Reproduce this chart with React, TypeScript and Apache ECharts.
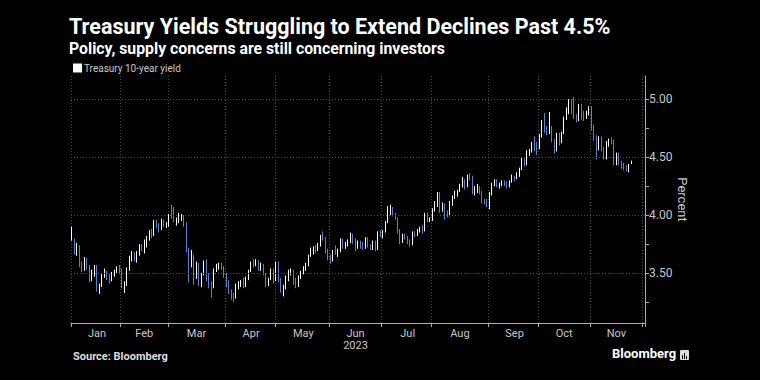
import React, { useEffect, useRef } from 'react';
import * as echarts from 'echarts';

const year = 2023;
const monthLabels = ['Jan', 'Feb', 'Mar', 'Apr', 'May', 'Jun', 'Jul', 'Aug', 'Sep', 'Oct', 'Nov', 'Dec'];

// trading days per month (category axis)
const janDays = [3, 4, 5, 6, 9, 10, 11, 12, 13, 17, 18, 19, 20, 23, 24, 25, 26, 27, 30, 31];
const febDays = [1, 2, 3, 6, 7, 8, 9, 10, 13, 14, 15, 16, 17, 21, 22, 23, 24, 27, 28];
const marDays = [1, 2, 3, 6, 7, 8, 9, 10, 13, 14, 15, 16, 17, 20, 21, 22, 23, 24, 27, 28, 29, 30, 31];
const aprDays = [3, 4, 5, 6, 7, 10, 11, 12, 13, 14, 17, 18, 19, 20, 21, 24, 25, 26, 27, 28];
const mayDays = [1, 2, 3, 4, 5, 8, 9, 10, 11, 12, 15, 16, 17, 18, 19, 22, 23, 24, 25, 26, 30, 31];
const junDays = [1, 2, 5, 6, 7, 8, 9, 12, 13, 14, 15, 16, 20, 21, 22, 23, 26, 27, 28, 29, 30];
const julDays = [3, 5, 6, 7, 10, 11, 12, 13, 14, 17, 18, 19, 20, 21, 24, 25, 26, 27, 28, 31];
const augDays = [1, 2, 3, 4, 7, 8, 9, 10, 11, 14, 15, 16, 17, 18, 21, 22, 23, 24, 25, 28, 29, 30, 31];
const sepDays = [1, 5, 6, 7, 8, 11, 12, 13, 14, 15, 18, 19, 20, 21, 22, 25, 26, 27, 28, 29];
const octDays = [2, 3, 4, 5, 6, 10, 11, 12, 13, 16, 17, 18, 19, 20, 23, 24, 25, 26, 27, 30, 31];
const novDays = [1, 2, 3, 6, 7, 8, 9, 10, 13, 14, 15, 16, 17, 20, 21, 22, 24, 27, 28, 29, 30];
const decDays = [1];
const monthDays = [janDays, febDays, marDays, aprDays, mayDays, junDays, julDays, augDays, sepDays, octDays, novDays, decDays];

// [open, close, low, high]
const janOHLC = [
  [3.81, 3.88, 3.78, 3.9], [3.79, 3.69, 3.66, 3.8], [3.68, 3.72, 3.65, 3.76], [3.72, 3.56, 3.55, 3.74],
  [3.57, 3.53, 3.51, 3.6], [3.53, 3.62, 3.52, 3.64], [3.62, 3.55, 3.53, 3.63], [3.55, 3.44, 3.42, 3.57],
  [3.44, 3.51, 3.43, 3.53], [3.51, 3.55, 3.47, 3.57], [3.54, 3.37, 3.34, 3.57], [3.37, 3.39, 3.32, 3.41],
  [3.39, 3.48, 3.38, 3.5], [3.48, 3.51, 3.46, 3.54], [3.51, 3.46, 3.44, 3.52], [3.46, 3.45, 3.41, 3.49],
  [3.45, 3.49, 3.43, 3.51], [3.49, 3.51, 3.47, 3.53], [3.51, 3.55, 3.5, 3.56], [3.55, 3.51, 3.49, 3.57],
];
const febOHLC = [
  [3.52, 3.39, 3.37, 3.54], [3.39, 3.4, 3.33, 3.43], [3.4, 3.53, 3.39, 3.55], [3.53, 3.64, 3.52, 3.65],
  [3.64, 3.67, 3.6, 3.69], [3.67, 3.61, 3.6, 3.68], [3.61, 3.66, 3.59, 3.69], [3.66, 3.74, 3.65, 3.75],
  [3.74, 3.71, 3.69, 3.75], [3.71, 3.76, 3.67, 3.79], [3.76, 3.81, 3.72, 3.82], [3.81, 3.86, 3.78, 3.87],
  [3.86, 3.82, 3.8, 3.88], [3.83, 3.95, 3.82, 3.96], [3.95, 3.92, 3.89, 3.96], [3.92, 3.88, 3.85, 3.93],
  [3.88, 3.95, 3.87, 3.97], [3.95, 3.92, 3.9, 3.96], [3.92, 3.93, 3.89, 3.94],
];
const marOHLC = [
  [3.92, 4.0, 3.9, 4.01], [4.08, 4.06, 3.97, 4.09], [4.06, 3.95, 3.94, 4.07], [3.95, 3.96, 3.91, 3.98],
  [3.96, 3.97, 3.93, 4.02], [3.97, 3.99, 3.95, 4.01], [3.99, 3.93, 3.9, 4.0], [3.93, 3.7, 3.68, 3.94],
  [3.7, 3.57, 3.42, 3.72], [3.57, 3.64, 3.55, 3.7], [3.64, 3.46, 3.4, 3.66], [3.46, 3.58, 3.45, 3.6],
  [3.58, 3.43, 3.39, 3.59], [3.43, 3.49, 3.38, 3.5], [3.49, 3.6, 3.48, 3.61], [3.6, 3.45, 3.43, 3.62],
  [3.45, 3.42, 3.37, 3.5], [3.42, 3.38, 3.29, 3.43], [3.38, 3.53, 3.37, 3.54], [3.53, 3.57, 3.51, 3.58],
  [3.56, 3.57, 3.53, 3.59], [3.57, 3.55, 3.53, 3.59], [3.55, 3.47, 3.46, 3.56],
];
const aprOHLC = [
  [3.47, 3.43, 3.38, 3.5], [3.43, 3.34, 3.32, 3.44], [3.34, 3.31, 3.27, 3.36], [3.31, 3.29, 3.25, 3.33],
  [3.29, 3.39, 3.28, 3.41], [3.39, 3.41, 3.36, 3.43], [3.41, 3.43, 3.38, 3.44], [3.43, 3.4, 3.37, 3.46],
  [3.4, 3.45, 3.38, 3.47], [3.45, 3.52, 3.44, 3.53], [3.52, 3.59, 3.51, 3.6], [3.59, 3.58, 3.55, 3.62],
  [3.58, 3.6, 3.56, 3.62], [3.6, 3.54, 3.52, 3.61], [3.54, 3.57, 3.52, 3.59], [3.57, 3.49, 3.48, 3.58],
  [3.49, 3.4, 3.38, 3.5], [3.4, 3.45, 3.39, 3.46], [3.45, 3.53, 3.44, 3.54], [3.53, 3.44, 3.41, 3.54],
];
const mayOHLC = [
  [3.44, 3.59, 3.43, 3.6], [3.59, 3.44, 3.42, 3.6], [3.44, 3.35, 3.33, 3.46], [3.35, 3.38, 3.3, 3.4],
  [3.38, 3.44, 3.36, 3.48], [3.44, 3.52, 3.43, 3.53], [3.5, 3.52, 3.48, 3.54], [3.52, 3.45, 3.4, 3.53],
  [3.45, 3.39, 3.37, 3.46], [3.39, 3.46, 3.38, 3.48], [3.46, 3.51, 3.45, 3.52], [3.51, 3.54, 3.49, 3.56],
  [3.54, 3.57, 3.52, 3.59], [3.57, 3.65, 3.56, 3.66], [3.65, 3.68, 3.64, 3.72], [3.68, 3.72, 3.66, 3.73],
  [3.72, 3.7, 3.67, 3.74], [3.7, 3.74, 3.69, 3.76], [3.74, 3.82, 3.73, 3.83], [3.82, 3.8, 3.78, 3.86],
  [3.8, 3.69, 3.67, 3.81], [3.69, 3.64, 3.61, 3.71],
];
const junOHLC = [
  [3.64, 3.61, 3.58, 3.66], [3.61, 3.69, 3.6, 3.7], [3.71, 3.69, 3.66, 3.74], [3.69, 3.7, 3.64, 3.71],
  [3.7, 3.79, 3.68, 3.8], [3.79, 3.72, 3.71, 3.8], [3.72, 3.75, 3.71, 3.77], [3.75, 3.77, 3.73, 3.79],
  [3.77, 3.83, 3.76, 3.85], [3.83, 3.79, 3.75, 3.84], [3.79, 3.72, 3.69, 3.8], [3.72, 3.77, 3.71, 3.78],
  [3.77, 3.73, 3.71, 3.78], [3.73, 3.72, 3.7, 3.77], [3.72, 3.8, 3.71, 3.81], [3.8, 3.74, 3.72, 3.81],
  [3.74, 3.72, 3.7, 3.75], [3.72, 3.77, 3.7, 3.78], [3.77, 3.71, 3.69, 3.78], [3.71, 3.85, 3.7, 3.86],
  [3.85, 3.84, 3.81, 3.87],
];
const julOHLC = [
  [3.84, 3.86, 3.8, 3.87], [3.86, 3.94, 3.85, 3.95], [3.94, 4.04, 3.93, 4.08], [4.04, 4.06, 4.0, 4.09],
  [4.06, 4.01, 3.99, 4.07], [4.01, 3.97, 3.96, 4.02], [3.97, 3.87, 3.84, 3.98], [3.87, 3.77, 3.75, 3.88],
  [3.77, 3.83, 3.76, 3.84], [3.83, 3.8, 3.79, 3.84], [3.8, 3.79, 3.75, 3.82], [3.79, 3.75, 3.73, 3.79],
  [3.75, 3.85, 3.74, 3.86], [3.85, 3.84, 3.81, 3.86], [3.84, 3.87, 3.82, 3.88], [3.87, 3.89, 3.85, 3.9],
  [3.89, 3.87, 3.84, 3.91], [3.87, 4.01, 3.86, 4.02], [4.01, 3.96, 3.94, 4.02], [3.96, 3.97, 3.94, 3.98],
];
const augOHLC = [
  [3.97, 4.05, 3.95, 4.06], [4.05, 4.08, 4.03, 4.12], [4.08, 4.19, 4.07, 4.2], [4.19, 4.04, 4.02, 4.2],
  [4.04, 4.09, 4.03, 4.11], [4.09, 4.02, 3.96, 4.1], [4.02, 4.01, 3.98, 4.04], [4.01, 4.09, 3.99, 4.12],
  [4.09, 4.16, 4.08, 4.17], [4.16, 4.19, 4.14, 4.21], [4.19, 4.21, 4.16, 4.22], [4.21, 4.26, 4.2, 4.27],
  [4.26, 4.3, 4.24, 4.33], [4.3, 4.25, 4.22, 4.31], [4.25, 4.34, 4.24, 4.35], [4.34, 4.33, 4.3, 4.36],
  [4.33, 4.19, 4.18, 4.34], [4.19, 4.24, 4.17, 4.25], [4.23, 4.24, 4.19, 4.27], [4.24, 4.2, 4.18, 4.25],
  [4.2, 4.12, 4.1, 4.21], [4.13, 4.12, 4.09, 4.14], [4.12, 4.09, 4.07, 4.14],
];
const sepOHLC = [
  [4.09, 4.18, 4.05, 4.2], [4.18, 4.27, 4.17, 4.28], [4.27, 4.3, 4.25, 4.31], [4.3, 4.26, 4.24, 4.31],
  [4.25, 4.26, 4.23, 4.28], [4.26, 4.29, 4.25, 4.3], [4.29, 4.27, 4.25, 4.3], [4.27, 4.25, 4.23, 4.29],
  [4.25, 4.29, 4.24, 4.3], [4.29, 4.33, 4.28, 4.35], [4.33, 4.32, 4.29, 4.34], [4.32, 4.37, 4.31, 4.37],
  [4.37, 4.4, 4.33, 4.41], [4.4, 4.49, 4.39, 4.5], [4.49, 4.44, 4.42, 4.49], [4.44, 4.54, 4.43, 4.56],
  [4.54, 4.55, 4.51, 4.57], [4.55, 4.61, 4.54, 4.63], [4.61, 4.59, 4.55, 4.68], [4.59, 4.57, 4.52, 4.63],
];
const octOHLC = [
  [4.59, 4.68, 4.57, 4.7], [4.68, 4.8, 4.67, 4.82], [4.8, 4.73, 4.71, 4.88], [4.73, 4.72, 4.69, 4.77],
  [4.72, 4.78, 4.7, 4.89], [4.75, 4.65, 4.63, 4.77], [4.65, 4.56, 4.53, 4.66], [4.56, 4.7, 4.55, 4.71],
  [4.7, 4.63, 4.6, 4.71], [4.63, 4.71, 4.62, 4.72], [4.71, 4.83, 4.7, 4.85], [4.83, 4.91, 4.82, 4.93],
  [4.91, 4.99, 4.87, 5.0], [4.99, 4.91, 4.87, 5.0], [4.93, 4.85, 4.83, 5.02], [4.85, 4.82, 4.8, 4.87],
  [4.82, 4.95, 4.81, 4.96], [4.95, 4.84, 4.82, 4.96], [4.86, 4.84, 4.81, 4.9], [4.84, 4.88, 4.83, 4.9],
  [4.88, 4.93, 4.86, 4.94],
];
const novOHLC = [
  [4.93, 4.77, 4.73, 4.94], [4.77, 4.67, 4.64, 4.78], [4.67, 4.57, 4.48, 4.69], [4.57, 4.67, 4.56, 4.68],
  [4.67, 4.57, 4.55, 4.68], [4.57, 4.49, 4.48, 4.59], [4.49, 4.63, 4.48, 4.64], [4.63, 4.65, 4.59, 4.66],
  [4.65, 4.64, 4.61, 4.67], [4.64, 4.44, 4.43, 4.65], [4.44, 4.53, 4.43, 4.54], [4.53, 4.45, 4.43, 4.54],
  [4.45, 4.44, 4.4, 4.47], [4.44, 4.42, 4.39, 4.45], [4.42, 4.4, 4.38, 4.43], [4.4, 4.41, 4.37, 4.44],
  [4.45, 4.46, 4.44, 4.47],
];

const yTickValues = [3.25, 3.5, 3.75, 4.0, 4.25, 4.5, 4.75, 5.0];
const yLabelValues = [3.5, 4.0, 4.5, 5.0];

const titleText = 'Treasury Yields Struggling to Extend Declines Past 4.5%';
const subtitleText = 'Policy, supply concerns are still concerning investors';
const seriesName = 'Treasury 10-year yield';

const UP = '#ffffff';
const DOWN = '#4f86d0';
const LABEL = '#c8c8c8';
const GRID = '#4a4a4a';
const FONT = 'Roboto, "Liberation Sans", sans-serif';

export default function App() {
  const ref = useRef<HTMLDivElement>(null);
  useEffect(() => {
    document.body.style.margin = '0';
    document.body.style.background = '#000';
    const chart = echarts.init(ref.current!, null, { renderer: 'svg' });

    const categories: string[] = [];
    const firstIdx = new Set<number>();
    const midIdx = new Map<number, string>();
    monthDays.forEach((days, m) => {
      firstIdx.add(categories.length);
      if (m < 11) {
        midIdx.set(categories.length + Math.floor(days.length / 2), m === 5 ? `${monthLabels[m]}\n${year}` : monthLabels[m]);
      }
      days.forEach((d) => categories.push(`${year}-${String(m + 1).padStart(2, '0')}-${String(d).padStart(2, '0')}`));
    });
    const candles = [
      ...janOHLC, ...febOHLC, ...marOHLC, ...aprOHLC, ...mayOHLC, ...junOHLC,
      ...julOHLC, ...augOHLC, ...sepOHLC, ...octOHLC, ...novOHLC,
    ];

    chart.setOption({
      animation: false,
      backgroundColor: '#000',
      textStyle: { fontFamily: FONT },
      title: [
        { text: titleText, left: 69, top: 14, padding: 0, textStyle: { color: '#fff', fontSize: 21.5, lineHeight: 25, fontWeight: 'bold', fontFamily: FONT } },
        { text: subtitleText, left: 69, top: 39, padding: 0, textStyle: { color: '#fff', fontSize: 15.8, lineHeight: 19, fontWeight: 'bold', fontFamily: FONT } },
      ],
      legend: {
        left: 73, top: 63, padding: 0, icon: 'rect', itemWidth: 7, itemHeight: 7, itemGap: 4,
        textStyle: { color: LABEL, fontSize: 10, padding: [0, 0, 0, -2] },
        data: [{ name: seriesName, itemStyle: { color: UP } }],
      },
      grid: { left: 71, right: 115, top: 76, bottom: 57, containLabel: false },
      xAxis: {
        type: 'category',
        data: categories,
        boundaryGap: true,
        axisLine: { show: true, lineStyle: { color: '#aaa', width: 1 } },
        axisTick: { show: true, interval: (i: number) => firstIdx.has(i), length: 4, lineStyle: { color: '#aaa' } },
        axisLabel: {
          interval: (i: number) => midIdx.has(i),
          formatter: (_v: string, i: number) => midIdx.get(i) ?? '',
          color: LABEL, fontSize: 11, lineHeight: 12, margin: 4,
        },
        splitLine: { show: true, interval: (i: number) => firstIdx.has(i), lineStyle: { color: GRID, type: [1, 2], width: 1 } },
      },
      yAxis: {
        type: 'value',
        position: 'right',
        min: 3.07,
        max: 5.2,
        axisLine: { show: true, lineStyle: { color: '#aaa', width: 1 } },
        axisTick: { show: true, customValues: yTickValues, length: 4, lineStyle: { color: '#aaa' } },
        axisLabel: { customValues: yLabelValues, formatter: (v: number) => v.toFixed(2), color: LABEL, fontSize: 12, margin: 4 },
        splitLine: { show: false },
        name: 'Percent',
        nameLocation: 'middle',
        nameRotate: -90,
        nameGap: 31,
        nameMoveOverlap: false,
        nameTextStyle: { color: LABEL, fontSize: 13 },
      },
      series: [
        {
          name: seriesName,
          type: 'candlestick',
          data: candles,
          barWidth: 1,
          itemStyle: { color: UP, color0: DOWN, borderColor: UP, borderColor0: DOWN, borderWidth: 1 },
          markLine: {
            silent: true,
            symbol: ['none', 'none'],
            label: { show: false },
            lineStyle: { color: GRID, type: [1, 2], width: 1 },
            data: yLabelValues.map((v) => ({ yAxis: v })),
          },
        },
      ],
      graphic: [
        { type: 'text', left: 73, top: 351, style: { text: 'Source: Bloomberg', fill: '#ddd', fontSize: 11, fontWeight: 'bold', fontFamily: FONT } },
        { type: 'text', left: 612, top: 347, style: { text: 'Bloomberg', fill: '#fff', fontSize: 13, fontWeight: 'bold', fontFamily: FONT } },
        { type: 'rect', left: 680, top: 350, shape: { width: 9, height: 10, r: 1 }, style: { fill: '#ddd' } },
        { type: 'rect', left: 682, top: 355, shape: { width: 1, height: 4 }, style: { fill: '#000' } },
        { type: 'rect', left: 684, top: 353, shape: { width: 1, height: 6 }, style: { fill: '#000' } },
        { type: 'rect', left: 686, top: 356, shape: { width: 1, height: 3 }, style: { fill: '#000' } },
      ],
    });
    return () => chart.dispose();
  }, []);
  return <div ref={ref} style={{ position: 'absolute', left: 0, top: 0, width: 760, height: 380, background: '#000' }} />;
}
